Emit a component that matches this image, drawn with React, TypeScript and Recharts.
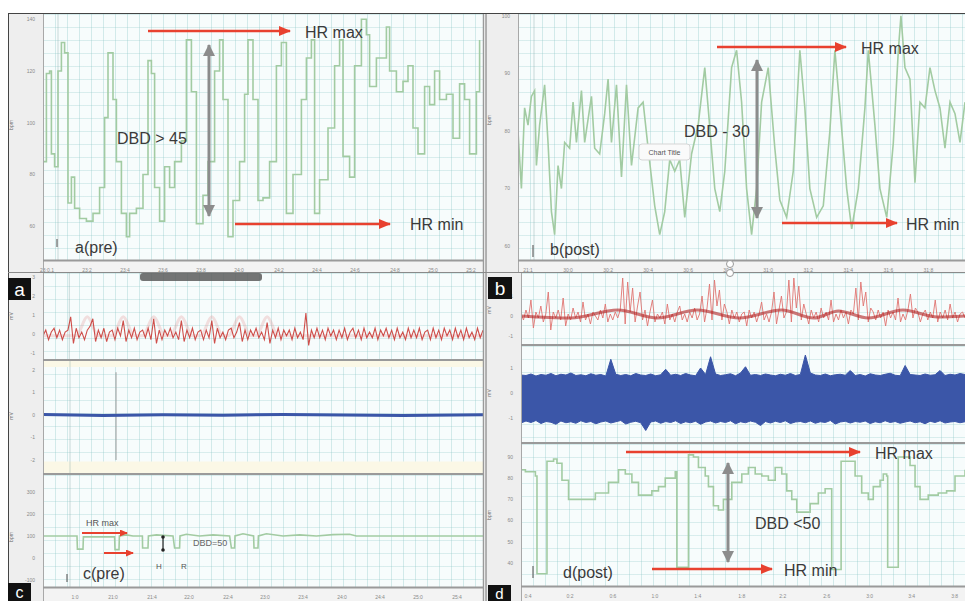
import { LineChart, Line, XAxis, YAxis, AreaChart, Area, ReferenceLine, ReferenceArea } from "recharts";

const FONT = "'Liberation Sans', Arial, sans-serif";
const GREEN = "#a2cba2";
const RED = "#c8302c";
const BLUE = "#3b56a8";
const ARROW = "#e8412f";

// a(pre): heart rate, time in s
const aTime = [
  0, 1.7, 3.3, 4.2, 5.8, 7.5, 9.2, 10.8, 12.5, 14.2,
  15.8, 18.3, 21.7, 25, 28.3, 30.8, 32.5, 35, 36.7, 39.2,
  41.7, 43.3, 46.7, 50, 52.5, 54.2, 55.8, 58.3, 60.8, 63.3,
  65.8, 69.2, 71.7, 74.2, 76.7, 80, 82.5, 85.8, 88.3, 90,
  92.5, 95, 98.3, 100.8, 102.5, 105, 107.5, 110, 113.3, 116.7,
  119.2, 121.7, 125, 129.2, 131.7, 134.2, 135.8, 138.3, 142.5, 145.8,
  148.3, 150, 153.3, 155.8, 159.2, 161.7, 163.3, 166.7, 171.7, 173.3,
  176.7, 180, 182.5, 185, 187.5, 190.8, 193.3, 195.8, 198.3, 201.7,
  205, 208.3, 210.8, 213.3, 216.7, 218.3,
];
const aHr = [
  85, 119, 120, 88, 83, 120, 131, 127, 69, 79,
  67, 63, 62, 65, 75, 102, 127, 109, 85, 65,
  56, 65, 67, 80, 124, 119, 75, 62, 83, 75,
  85, 93, 132, 112, 61, 72, 85, 120, 132, 109,
  56, 70, 85, 111, 132, 109, 70, 71, 85, 122,
  131, 65, 80, 109, 125, 132, 65, 78, 98, 122,
  132, 87, 79, 122, 140, 134, 114, 125, 137, 120,
  112, 116, 122, 98, 88, 114, 107, 120, 109, 111,
  94, 115, 109, 88, 112, 132,
];
const aYTicks = [60, 80, 100, 120, 140];
const aXTicks = [2, 22, 41, 60, 79, 98, 118, 137, 156, 176, 195, 214];
const aXLabels = ["23:0.1", "23:2", "23:4", "23:6", "23:8", "24:0", "24:2", "24:4", "24:6", "24:8", "25:0", "25:2"];

// b(post): heart rate
const bTime = [
  0, 1.7, 3.3, 5, 6.7, 8.3, 9.2, 10.8, 13.3, 15,
  16.7, 18.3, 20, 21.7, 23.3, 25.8, 27.5, 29.2, 31.7, 33.3,
  36.7, 38.3, 40.8, 43.3, 45, 46.7, 49.2, 51.7, 54.2, 56.7,
  60, 62.5, 65, 68.3, 70.8, 73.3, 75.8, 78.3, 80.8, 83.3,
  86.7, 90, 93.3, 95, 98.3, 100.8, 103.3, 106.7, 109.2, 111.7,
  114.2, 116.7, 119.2, 121.7, 125, 128.3, 130.8, 134.2, 137.5, 140.8,
  143.3, 145.8, 149.2, 152.5, 155.8, 158.3, 160.8, 164.2, 166.7, 170,
  173.3, 175, 178.3, 180.8, 184.2, 187.5, 190, 191.3, 193.3, 195.8,
  198.3, 200.8, 203.3, 205.8, 208.3, 210.8, 213.3, 215.8, 218.3, 220.8,
  223.3,
];
const bHr = [
  80, 70, 84, 81, 86, 87, 74, 81, 88, 78,
  66, 62, 74, 70, 78, 77, 85, 78, 87, 78,
  86, 77, 76, 83, 89, 78, 88, 72, 88, 74,
  84, 85, 77, 67, 62, 66, 75, 73, 75, 65,
  76, 81, 91, 84, 70, 66, 73, 91, 94, 85,
  70, 62, 70, 85, 91, 77, 68, 65, 73, 94,
  84, 70, 65, 67, 80, 94, 84, 70, 63, 70,
  84, 94, 81, 70, 65, 78, 94, 100, 91, 89,
  71, 85, 84, 91, 87, 84, 77, 85, 83, 78,
  85,
];
const bYTicks = [60, 70, 80, 90, 100];
const bXTicks = [5, 25, 45, 65, 85, 105, 125, 145, 165, 185, 205];
const bXLabels = ["21:1", "30:0", "30:2", "30:4", "30:6", "30:8", "31:0", "31:2", "31:4", "31:6", "31:8"];

// c(pre): ECG, respiration, heart rate
const cEcg = [
  -0.1, 0.2, -0.3, 0.1, 0.3, -0.2, 0.2, -0.3, 0.1, 0.2,
  0.9, -0.5, 0.3, -0.2, 0.1, -0.3, 0.2, 0.4, 0.8, -0.4,
  0.2, -0.2, 0.3, -0.4, 0.1, 0.2, -0.3, 0.3, -0.1, 0.7,
  -0.4, 0.2, -0.2, 0.3, -0.3, 0.1, 0.2, -0.2, 0.3, -0.3,
  0.8, -0.5, 0.2, -0.3, 0.2, -0.1, 0.3, -0.2, 0.1, -0.3,
  0.7, -0.4, 0.2, -0.2, 0.3, -0.3, 0.1, 0.2, -0.3, 0.2,
  -0.2, 0.7, -0.5, 0.3, -0.2, 0.1, -0.3, 0.2, 0.3, -0.2,
  0.1, 0.6, -0.4, 0.2, -0.3, 0.2, -0.1, 0.3, -0.2, 0.1,
  -0.3, 0.6, -0.5, 0.2, -0.2, 0.3, -0.3, 0.2, -0.1, 0.2,
  -0.3, 0.3, -0.2, 0.1, -0.3, 1.1, -0.6, 0.2, -0.2, 0.3,
  -0.2, 0.2, -0.3, 0.3, -0.1, 0.2, -0.3, 0.2, -0.2, 0.3,
  -0.3, 0.1, 0.3, -0.2, 0.2, -0.3, 0.3, -0.2, 0.1, -0.2,
  0.3, -0.3, 0.2, -0.1, 0.3, -0.2, 0.2, -0.3, 0.3, -0.2,
  0.1, -0.3, 0.3, -0.2, 0.2, -0.2, 0.3, -0.3, 0.1, 0.2,
  -0.3, 0.3, -0.2, 0.2, -0.3, 0.3, -0.1, 0.2, -0.3, 0.3,
  -0.2, 0.2, -0.3, 0.3, -0.2, 0.1, -0.3, 0.3, -0.2, 0.2,
];
const cBumpIdx = [0, 12, 16, 20, 25, 29, 33, 36, 40, 44, 46, 50, 54, 57, 61, 65, 67, 71, 75, 77, 81, 85, 159];
const cBumpVal = [-0.1, -0.1, 0.9, -0.1, -0.1, 0.9, -0.1, -0.1, 0.9, -0.1, -0.1, 0.9, -0.1, -0.1, 0.9, -0.1, -0.1, 0.9, -0.1, -0.1, 0.9, -0.1, -0.1];
const cRespTime = [0, 30, 60, 90, 120, 150, 180, 220];
const cResp = [0.02, -0.02, 0.01, -0.01, 0.02, 0, -0.02, 0.01];
const cTime = [
  0, 17, 17.2, 20, 20.2, 35.8, 36, 38, 38.2, 41.7,
  45, 49.7, 49.8, 52.5, 52.7, 56.7, 65, 65.8, 68.3, 68.5,
  71.7, 78.3, 85, 93.3, 94.2, 95.8, 96, 100, 105.3, 105.5,
  107.5, 107.7, 111.7, 120, 128.3, 136.7, 145, 153.3, 156.7, 178.3,
  220,
];
const cHr = [
  100, 100, 40, 40, 96, 96, 38, 38, 100, 105,
  100, 100, 45, 45, 100, 105, 100, 45, 45, 100,
  108, 100, 105, 100, 45, 45, 100, 110, 100, 45,
  45, 100, 110, 100, 105, 100, 106, 108, 100, 100,
  100,
];
const cXTicks = [16, 35, 54.5, 73, 92.5, 111, 130, 149.5, 168.5, 187.5, 207];
const cXLabels = ["1:0", "21:0", "21:4", "22:0", "22:4", "23:0", "23:4", "24:0", "24:4", "25:0", "25:4"];

// d(post): ECG, respiration envelope, heart rate
const dEcg = [
  0.1, -0.2, 0.3, -0.1, 0.8, -0.6, 0.2, -0.1, 0.5, -0.3,
  0.1, 1.2, -0.7, 0.2, -0.1, 0.3, -0.2, 0.9, -0.5, 0.1,
  -0.2, 0.4, -0.1, 0.2, -0.3, 0.7, -0.2, 0.1, -0.4, 0.2,
  0.0, -0.2, 0.3, -0.1, 0.6, -0.3, 0.1, -0.2, 0.2, -0.1,
  0.3, 1.9, -0.4, 1.7, 0.2, 1.4, -0.3, 0.5, 1.2, -0.2,
  0.3, -0.5, 0.2, 0.8, -0.3, 0.1, -0.1, 0.2, -0.4, 0.6,
  -0.2, 0.1, -0.3, 0.2, 0.5, -0.2, 0.1, -0.3, 0.2, -0.1,
  0.4, -0.2, 0.1, 1.0, -0.3, 0.4, 1.6, -0.2, 1.8, 0.5,
  1.3, -0.2, 0.6, 0.2, -0.4, 0.3, -0.1, 0.2, -0.3, 0.1,
  0.2, -0.5, 0.3, -0.1, 0.2, -0.3, 0.1, 0.7, -0.2, 0.1,
  -0.3, 0.2, 1.2, -0.4, 0.3, 1.0, -0.1, 0.2, 1.8, -0.3,
  1.9, 0.4, 1.5, -0.2, 0.6, 0.1, -0.4, 0.3, -0.1, 0.2,
  -0.3, 0.4, -0.1, 0.2, -0.2, 0.8, -0.3, 0.1, -0.2, 0.3,
  -0.1, 0.2, -0.4, 0.3, 0.1, 1.4, -0.2, 1.7, 0.5, 1.2,
  -0.3, 0.4, 0.2, -0.2, 0.3, -0.1, 0.2, -0.5, 0.3, -0.1,
  0.2, -0.2, 0.9, -0.3, 0.1, -0.2, 0.3, 1.1, -0.1, 0.4,
  0.2, -0.3, 0.1, 0.3, -0.2, 0.2, -0.1, 0.8, -0.3, 0.2,
  -0.1, 0.3, -0.2, 0.6, -0.1, 0.2, -0.3, 0.1, 0.2, -0.1,
];
const dBaseIdx = [0, 20, 39, 55, 71, 88, 105, 118, 128, 140, 154, 168, 179];
const dBaseVal = [0, -0.1, 0.3, -0.1, 0.3, -0.1, 0.3, -0.1, 0.25, -0.1, 0.3, -0.05, 0];
const dRespHigh = [
  0.72, 0.7, 0.76, 0.68, 0.74, 0.71, 0.78, 0.69, 0.75, 0.72,
  0.8, 0.7, 0.73, 0.69, 0.77, 0.71, 0.74, 0.68, 1.35, 0.75,
  0.7, 0.74, 0.69, 0.78, 0.72, 0.7, 0.76, 0.69, 0.73, 0.95,
  0.71, 0.75, 0.7, 0.78, 0.72, 0.69, 1.0, 0.74, 1.45, 0.76,
  0.7, 0.73, 0.77, 0.69, 0.8, 1.05, 0.71, 0.74, 0.7, 0.76,
  0.72, 0.69, 0.75, 0.71, 0.78, 0.7, 0.74, 1.52, 0.8, 0.72,
  0.7, 0.76, 0.69, 0.73, 0.75, 0.71, 0.9, 0.7, 0.74, 0.68,
  0.77, 0.72, 0.7, 0.75, 0.79, 0.71, 0.69, 1.1, 0.74, 0.72,
  0.7, 0.76, 0.71, 0.73, 0.9, 0.7, 0.75, 0.72, 0.78, 0.74,
];
const dRespLow = [
  -1.2, -1.12, -1.18, -1.1, -1.22, -1.14, -1.17, -1.25, -1.12, -1.19,
  -1.15, -1.21, -1.11, -1.18, -1.14, -1.23, -1.16, -1.12, -1.2, -1.15,
  -1.1, -1.24, -1.17, -1.13, -1.19, -1.5, -1.16, -1.12, -1.21, -1.14,
  -1.18, -1.11, -1.22, -1.15, -1.19, -1.13, -1.25, -1.16, -1.12, -1.2,
  -1.14, -1.18, -1.11, -1.23, -1.15, -1.19, -1.12, -1.17, -1.3, -1.14,
  -1.2, -1.13, -1.18, -1.11, -1.22, -1.16, -1.14, -1.19, -1.12, -1.21,
  -1.15, -1.18, -1.1, -1.24, -1.16, -1.13, -1.2, -1.14, -1.17, -1.12,
  -1.22, -1.15, -1.19, -1.11, -1.18, -1.14, -1.21, -1.16, -1.12, -1.19,
  -1.15, -1.23, -1.13, -1.18, -1.11, -1.2, -1.16, -1.14, -1.19, -1.15,
];
const dTime = [
  0, 2.2, 7.2, 8, 12.2, 13, 16.3, 18, 20.5, 23.8,
  30.5, 37.2, 43.8, 48.8, 52.2, 55.5, 58.8, 65.5, 68.8, 72.2,
  77.2, 78, 83, 83.8, 86.3, 88.8, 92.2, 93.8, 96.3, 98.8,
  101.3, 105.5, 110.5, 113.8, 117.2, 120.5, 123.8, 127.2, 130.5, 133,
  135.5, 138, 141.3, 144.7, 148.8, 152.2, 154.7, 155.5, 159.7, 160.2,
  163.8, 167.2, 170.5, 173.8, 176.3, 179.7, 181.3, 183, 183.5, 188,
  188.8, 193, 194.7, 197.2, 199.7, 203.8, 208.8, 213, 217.2, 222.2,
];
const dHr = [
  84, 83, 81, 35, 35, 88, 89, 87, 79, 70,
  70, 73, 78, 84, 82, 78, 72, 74, 76, 80,
  83, 38, 38, 91, 90, 85, 81, 76, 67, 65,
  70, 78, 82, 85, 82, 81, 79, 85, 82, 74,
  70, 64, 64, 68, 73, 75, 75, 37, 37, 88,
  88, 81, 73, 70, 76, 79, 82, 81, 38, 38,
  90, 90, 86, 76, 70, 72, 73, 74, 81, 84,
];
const dXTicks = [3.5, 24.5, 46, 67, 88.5, 110.5, 131, 153, 174.5, 195.5, 217];
const dXLabels = ["0:4", "0:2", "0:6", "1:0", "1:4", "1:8", "2:2", "2:6", "3:0", "3:4", "3:8"];

const aData = aTime.map((t, i) => ({ t, hr: aHr[i] }));
const bData = bTime.map((t, i) => ({ t, hr: bHr[i] }));
const cEcgData = cEcg.map((v, i) => ({ t: i, v }));
const cBumpData = cBumpIdx.map((t, i) => ({ t, v: cBumpVal[i] }));
const cRespData = cRespTime.map((t, i) => ({ t, v: cResp[i] }));
const cHrData = cTime.map((t, i) => ({ t, hr: cHr[i] }));
const dEcgData = dEcg.map((v, i) => ({ t: i, v }));
const dBaseData = dBaseIdx.map((t, i) => ({ t, v: dBaseVal[i] }));
const dRespData = dRespHigh.map((h, i) => ({ t: i, range: [dRespLow[i], h] }));
const dHrData = dTime.map((t, i) => ({ t, hr: dHr[i] }));

const tickStyle = { fontSize: 5, fill: "#8a8a8a", fontFamily: FONT };
const noMargin = { top: 0, right: 0, bottom: 0, left: 0 };

const gridBg = {
  backgroundColor: "#f7fcfc",
  backgroundImage:
    "linear-gradient(to right, rgba(150,205,205,0.38) 1px, transparent 1px), linear-gradient(to bottom, rgba(150,205,205,0.32) 1px, transparent 1px)",
  backgroundSize: "12px 13px",
};

function Box({ x, y, w, h, style }: { x: number; y: number; w: number; h: number; style?: any }) {
  return <div style={{ position: "absolute", left: x, top: y, width: w, height: h, ...style }} />;
}

function Pane({ x, y, children }: { x: number; y: number; children: any }) {
  return <div style={{ position: "absolute", left: x, top: y }}>{children}</div>;
}

const fmt = (ticks: number[], labels: string[]) => (v: number) => labels[ticks.indexOf(v)] ?? "";

function Label({ x, y, text, size = 16, color = "#3a3a3a" }: { x: number; y: number; text: string; size?: number; color?: string }) {
  return (
    <text x={x} y={y} fontSize={size} fill={color} fontFamily={FONT} dominantBaseline="central">
      {text}
    </text>
  );
}

function Tag({ x, y, w, h, text, size = 19 }: { x: number; y: number; w: number; h: number; text: string; size?: number }) {
  return (
    <g>
      <rect x={x} y={y} width={w} height={h} fill="#111" />
      <text x={x + w / 2} y={y + h / 2} fontSize={size} fill="#fff" fontFamily={FONT} textAnchor="middle" dominantBaseline="central">
        {text}
      </text>
    </g>
  );
}

export default function App() {
  return (
    <div style={{ position: "absolute", left: 0, top: 0, width: 965, height: 601, background: "#fff", overflow: "hidden", fontFamily: FONT }}>
      {/* strips and plot backgrounds */}
      <Box x={9} y={14} w={34} h={258} style={{ background: "#eeeeee" }} />
      <Box x={486} y={14} w={32} h={258} style={{ background: "#eeeeee" }} />
      <Box x={9} y={273} w={34} h={328} style={{ background: "#eeeeee" }} />
      <Box x={486} y={273} w={35} h={328} style={{ background: "#eeeeee" }} />
      <Box x={43} y={14} w={440} h={246} style={gridBg} />
      <Box x={518} y={14} w={447} h={246} style={gridBg} />
      <Box x={43} y={273} w={440} h={86} style={gridBg} />
      <Box x={43} y={361} w={440} h={112} style={gridBg} />
      <Box x={43} y={475} w={440} h={112} style={gridBg} />
      <Box x={521} y={273} w={444} h={71} style={gridBg} />
      <Box x={521} y={346} w={444} h={96} style={gridBg} />
      <Box x={521} y={444} w={444} h={142} style={gridBg} />
      <Box x={43} y={260} w={440} h={12} style={{ background: "#f3f3f3" }} />
      <Box x={518} y={260} w={447} h={12} style={{ background: "#f3f3f3" }} />
      <Box x={43} y={587} w={440} h={14} style={{ background: "#f3f3f3" }} />
      <Box x={521} y={586} w={444} h={15} style={{ background: "#f3f3f3" }} />

      {/* a(pre) */}
      <Pane x={8} y={14}>
        <LineChart width={475} height={258} data={aData} margin={noMargin}>
          <XAxis type="number" dataKey="t" domain={[0, 220]} ticks={aXTicks} interval={0} tickFormatter={fmt(aXTicks, aXLabels)} height={12} tick={tickStyle} axisLine={false} tickLine={false} allowDataOverflow />
          <YAxis type="number" domain={[47, 142]} ticks={aYTicks} width={35} tick={tickStyle} axisLine={false} tickLine={false} allowDataOverflow />
          <ReferenceLine x={7.5} stroke="rgba(110,150,150,0.35)" />
          <Line type="stepAfter" dataKey="hr" stroke={GREEN} strokeWidth={1.6} dot={false} isAnimationActive={false} />
        </LineChart>
      </Pane>

      {/* b(post) */}
      <Pane x={487} y={14}>
        <LineChart width={478} height={258} data={bData} margin={noMargin}>
          <XAxis type="number" dataKey="t" domain={[0, 223.3]} ticks={bXTicks} interval={0} tickFormatter={fmt(bXTicks, bXLabels)} height={12} tick={tickStyle} axisLine={false} tickLine={false} allowDataOverflow />
          <YAxis type="number" domain={[57.6, 100.3]} ticks={bYTicks} width={31} tick={tickStyle} axisLine={false} tickLine={false} allowDataOverflow />
          <ReferenceLine x={8} stroke="rgba(110,150,150,0.35)" />
          <Line type="linear" dataKey="hr" stroke={GREEN} strokeWidth={1.6} dot={false} isAnimationActive={false} />
        </LineChart>
      </Pane>

      {/* c(pre) ECG */}
      <Pane x={8} y={273}>
        <LineChart width={475} height={86} margin={noMargin}>
          <XAxis type="number" dataKey="t" domain={[0, 159]} hide allowDataOverflow />
          <YAxis type="number" domain={[-1.32, 3.21]} ticks={[-1, 0, 1, 2, 3]} width={35} tick={tickStyle} axisLine={false} tickLine={false} allowDataOverflow />
          <ReferenceLine x={9.5} stroke="rgba(110,150,150,0.35)" />
          <Line data={cBumpData} type="monotone" dataKey="v" stroke="rgba(225,130,130,0.25)" strokeWidth={3} dot={false} isAnimationActive={false} />
          <Line data={cEcgData} type="linear" dataKey="v" stroke={RED} strokeWidth={1.1} strokeOpacity={0.85} dot={false} isAnimationActive={false} />
        </LineChart>
      </Pane>

      {/* c(pre) respiration */}
      <Pane x={8} y={361}>
        <LineChart width={475} height={112} data={cRespData} margin={noMargin}>
          <XAxis type="number" dataKey="t" domain={[0, 220]} hide allowDataOverflow />
          <YAxis type="number" domain={[-2.58, 2.4]} ticks={[-2, -1, 0, 1, 2]} width={35} tick={tickStyle} axisLine={false} tickLine={false} allowDataOverflow />
          <ReferenceArea y1={2.13} y2={2.4} fill="#fbf8e6" fillOpacity={1} stroke="none" />
          <ReferenceArea y1={-2.58} y2={-2.07} fill="#fbf8e6" fillOpacity={1} stroke="none" />
          <ReferenceLine x={13.5} stroke="rgba(110,150,150,0.35)" />
          <ReferenceLine segment={[{ x: 36.5, y: 1.9 }, { x: 36.5, y: -2 }]} stroke="#9a9a9a" strokeWidth={1} />
          <Line type="linear" dataKey="v" stroke={BLUE} strokeWidth={3} dot={false} isAnimationActive={false} />
        </LineChart>
      </Pane>

      {/* c(pre) heart rate */}
      <Pane x={8} y={475}>
        <LineChart width={475} height={126} data={cHrData} margin={noMargin}>
          <XAxis type="number" dataKey="t" domain={[0, 220]} ticks={cXTicks} interval={0} tickFormatter={fmt(cXTicks, cXLabels)} height={14} tick={tickStyle} axisLine={false} tickLine={false} allowDataOverflow />
          <YAxis type="number" domain={[-132, 377]} ticks={[-100, 0, 100, 200, 300]} width={35} tick={tickStyle} axisLine={false} tickLine={false} allowDataOverflow />
          <ReferenceLine x={13.5} stroke="rgba(110,150,150,0.35)" />
          <Line type="linear" dataKey="hr" stroke={GREEN} strokeWidth={1.6} dot={false} isAnimationActive={false} />
        </LineChart>
      </Pane>

      {/* d(post) ECG */}
      <Pane x={488} y={273}>
        <LineChart width={477} height={71} margin={noMargin}>
          <XAxis type="number" dataKey="t" domain={[0, 179]} hide allowDataOverflow />
          <YAxis type="number" domain={[-1.4, 2.15]} ticks={[-1, 0, 1]} width={33} tick={tickStyle} axisLine={false} tickLine={false} allowDataOverflow />
          <Line data={dEcgData} type="linear" dataKey="v" stroke="#e07470" strokeWidth={0.9} dot={false} isAnimationActive={false} />
          <Line data={dBaseData} type="monotone" dataKey="v" stroke="#b01e1e" strokeWidth={3} strokeOpacity={0.6} dot={false} isAnimationActive={false} />
        </LineChart>
      </Pane>

      {/* d(post) respiration */}
      <Pane x={488} y={346}>
        <AreaChart width={477} height={96} data={dRespData} margin={noMargin}>
          <XAxis type="number" dataKey="t" domain={[0, 89]} hide allowDataOverflow />
          <YAxis type="number" domain={[-1.96, 1.88]} ticks={[-1, 0, 1]} width={33} tick={tickStyle} axisLine={false} tickLine={false} allowDataOverflow />
          <Area type="linear" dataKey="range" stroke={BLUE} strokeWidth={1} fill={BLUE} fillOpacity={1} isAnimationActive={false} />
        </AreaChart>
      </Pane>

      {/* d(post) heart rate */}
      <Pane x={488} y={444}>
        <LineChart width={477} height={157} data={dHrData} margin={noMargin}>
          <XAxis type="number" dataKey="t" domain={[0, 222.2]} ticks={dXTicks} interval={0} tickFormatter={fmt(dXTicks, dXLabels)} height={15} tick={tickStyle} axisLine={false} tickLine={false} allowDataOverflow />
          <YAxis type="number" domain={[29.2, 96.1]} ticks={[40, 50, 60, 70, 80, 90]} width={33} tick={tickStyle} axisLine={false} tickLine={false} allowDataOverflow />
          <Line type="stepAfter" dataKey="hr" stroke={GREEN} strokeWidth={1.6} dot={false} isAnimationActive={false} />
        </LineChart>
      </Pane>

      {/* frames and annotations */}
      <svg width={965} height={601} style={{ position: "absolute", left: 0, top: 0, pointerEvents: "none" }}>
        <defs>
          <marker id="rh" viewBox="0 0 12 10" markerWidth={12} markerHeight={10} refX={11} refY={5} orient="auto" markerUnits="userSpaceOnUse">
            <path d="M0,0L12,5L0,10z" fill={ARROW} />
          </marker>
          <marker id="rhs" viewBox="0 0 8 7" markerWidth={8} markerHeight={7} refX={7} refY={3.5} orient="auto" markerUnits="userSpaceOnUse">
            <path d="M0,0L8,3.5L0,7z" fill={ARROW} />
          </marker>
          <marker id="gh" viewBox="0 0 12 12" markerWidth={12} markerHeight={12} refX={11} refY={6} orient="auto-start-reverse" markerUnits="userSpaceOnUse">
            <path d="M0,0L12,6L0,12z" fill="#8c8c8c" />
          </marker>
        </defs>

        {/* borders */}
        <line x1={8} y1={13.5} x2={965} y2={13.5} stroke="#444" />
        <line x1={8.5} y1={13} x2={8.5} y2={601} stroke="#444" />
        <line x1={43.5} y1={14} x2={43.5} y2={601} stroke="#a8a8a8" />
        <line x1={518.5} y1={14} x2={518.5} y2={272} stroke="#a8a8a8" />
        <line x1={521.5} y1={273} x2={521.5} y2={601} stroke="#a8a8a8" />
        <line x1={483.5} y1={14} x2={483.5} y2={601} stroke="#9a9a9a" strokeWidth={1.5} />
        <line x1={486} y1={14} x2={486} y2={601} stroke="#9a9a9a" strokeWidth={1.5} />
        <line x1={43} y1={260.5} x2={483} y2={260.5} stroke="#9a9a9a" strokeWidth={2} />
        <line x1={518} y1={260.5} x2={965} y2={260.5} stroke="#9a9a9a" strokeWidth={2} />
        <line x1={8} y1={272.5} x2={965} y2={272.5} stroke="#8a8a8a" />
        <line x1={43} y1={360} x2={483} y2={360} stroke="#9a9a9a" strokeWidth={2} />
        <line x1={43} y1={474} x2={483} y2={474} stroke="#9a9a9a" strokeWidth={2} />
        <line x1={43} y1={587.5} x2={483} y2={587.5} stroke="#9a9a9a" strokeWidth={2} />
        <line x1={521} y1={345} x2={965} y2={345} stroke="#9a9a9a" strokeWidth={2} />
        <line x1={521} y1={443} x2={965} y2={443} stroke="#9a9a9a" strokeWidth={2} />
        <line x1={521} y1={586.5} x2={965} y2={586.5} stroke="#9a9a9a" strokeWidth={2} />
        <rect x={140} y={273} width={122} height={8} rx={3} fill="#5c5c5c" opacity={0.85} />
        <circle cx={730} cy={264} r={3.5} fill="#fff" stroke="#999" />
        <circle cx={730} cy={273} r={3.5} fill="#fff" stroke="#999" />

        {/* side-strip units */}
        <text x={13} y={125} fontSize={5} fill="#777" transform="rotate(-90 13 125)" textAnchor="middle">bpm</text>
        <text x={491} y={120} fontSize={5} fill="#777" transform="rotate(-90 491 120)" textAnchor="middle">bpm</text>
        <text x={13} y={316} fontSize={5} fill="#777" transform="rotate(-90 13 316)" textAnchor="middle">mV</text>
        <text x={13} y={416} fontSize={5} fill="#777" transform="rotate(-90 13 416)" textAnchor="middle">mV</text>
        <text x={13} y={537} fontSize={5} fill="#777" transform="rotate(-90 13 537)" textAnchor="middle">bpm</text>
        <text x={491} y={310} fontSize={5} fill="#777" transform="rotate(-90 491 310)" textAnchor="middle">mV</text>
        <text x={491} y={393} fontSize={5} fill="#777" transform="rotate(-90 491 393)" textAnchor="middle">mV</text>
        <text x={491} y={515} fontSize={5} fill="#777" transform="rotate(-90 491 515)" textAnchor="middle">bpm</text>

        {/* a */}
        <line x1={148} y1={31} x2={290} y2={31} stroke={ARROW} strokeWidth={2.5} markerEnd="url(#rh)" />
        <Label x={305} y={32} text="HR max" />
        <line x1={209} y1={45} x2={209} y2={216} stroke="#8c8c8c" strokeWidth={3} markerStart="url(#gh)" markerEnd="url(#gh)" />
        <Label x={117} y={138} text="DBD > 45" />
        <line x1={235} y1={224} x2={390} y2={224} stroke={ARROW} strokeWidth={2.5} markerEnd="url(#rh)" />
        <Label x={410} y={224} text="HR min" />
        <Label x={75} y={247} text="a(pre)" />
        <line x1={57} y1={239} x2={57} y2={247} stroke="#666" strokeWidth={1.2} />

        {/* b */}
        <line x1={717} y1={47} x2={846} y2={47} stroke={ARROW} strokeWidth={2.5} markerEnd="url(#rh)" />
        <Label x={861} y={48} text="HR max" />
        <line x1={757} y1={60} x2={757} y2={218} stroke="#8c8c8c" strokeWidth={3} markerStart="url(#gh)" markerEnd="url(#gh)" />
        <Label x={684} y={131} text="DBD - 30" />
        <rect x={639} y={144} width={51} height={16} rx={3} fill="#fafafa" stroke="#d5d5d5" />
        <text x={664.5} y={152.5} fontSize={7} fill="#555" fontFamily={FONT} textAnchor="middle" dominantBaseline="central">Chart Title</text>
        <line x1={782} y1={223} x2={897} y2={223} stroke={ARROW} strokeWidth={2.5} markerEnd="url(#rh)" />
        <Label x={906} y={224} text="HR min" />
        <Label x={550} y={249} text="b(post)" />
        <line x1={533} y1={245} x2={533} y2={257} stroke="#666" strokeWidth={1.2} />

        {/* c */}
        <Label x={86} y={523} text="HR max" size={9} color="#555" />
        <line x1={82} y1={533} x2={127} y2={533} stroke={ARROW} strokeWidth={2} markerEnd="url(#rhs)" />
        <line x1={104} y1={553} x2={133} y2={553} stroke={ARROW} strokeWidth={2} markerEnd="url(#rhs)" />
        <line x1={163} y1={537} x2={163} y2={550} stroke="#222" strokeWidth={1.2} />
        <circle cx={163} cy={537} r={1.8} fill="#222" />
        <circle cx={163} cy={550} r={1.8} fill="#222" />
        <Label x={156} y={566} text="H" size={8} color="#555" />
        <Label x={181} y={566} text="R" size={8} color="#555" />
        <Label x={193} y={543} text="DBD=50" size={9} color="#666" />
        <Label x={83} y={573} text="c(pre)" size={16} />
        <line x1={67} y1={574} x2={67} y2={582} stroke="#666" strokeWidth={1.2} />

        {/* d */}
        <line x1={626} y1={452} x2={860} y2={452} stroke={ARROW} strokeWidth={2.5} markerEnd="url(#rh)" />
        <Label x={875} y={453} text="HR max" />
        <line x1={728} y1={463} x2={728} y2={562} stroke="#8c8c8c" strokeWidth={3} markerStart="url(#gh)" markerEnd="url(#gh)" />
        <Label x={755} y={523} text="DBD <50" />
        <line x1={652} y1={569} x2={772} y2={569} stroke={ARROW} strokeWidth={2.5} markerEnd="url(#rh)" />
        <Label x={784} y={570} text="HR min" />
        <Label x={563} y={572} text="d(post)" />
        <line x1={533} y1={566} x2={533} y2={578} stroke="#666" strokeWidth={1.2} />

        {/* panel tags */}
        <Tag x={8} y={278} w={23} h={22} text="a" />
        <Tag x={488} y={277} w={24} h={22} text="b" />
        <Tag x={8} y={583} w={23} h={18} text="c" size={16} />
        <Tag x={488} y={585} w={23} h={16} text="d" size={15} />
      </svg>
    </div>
  );
}
